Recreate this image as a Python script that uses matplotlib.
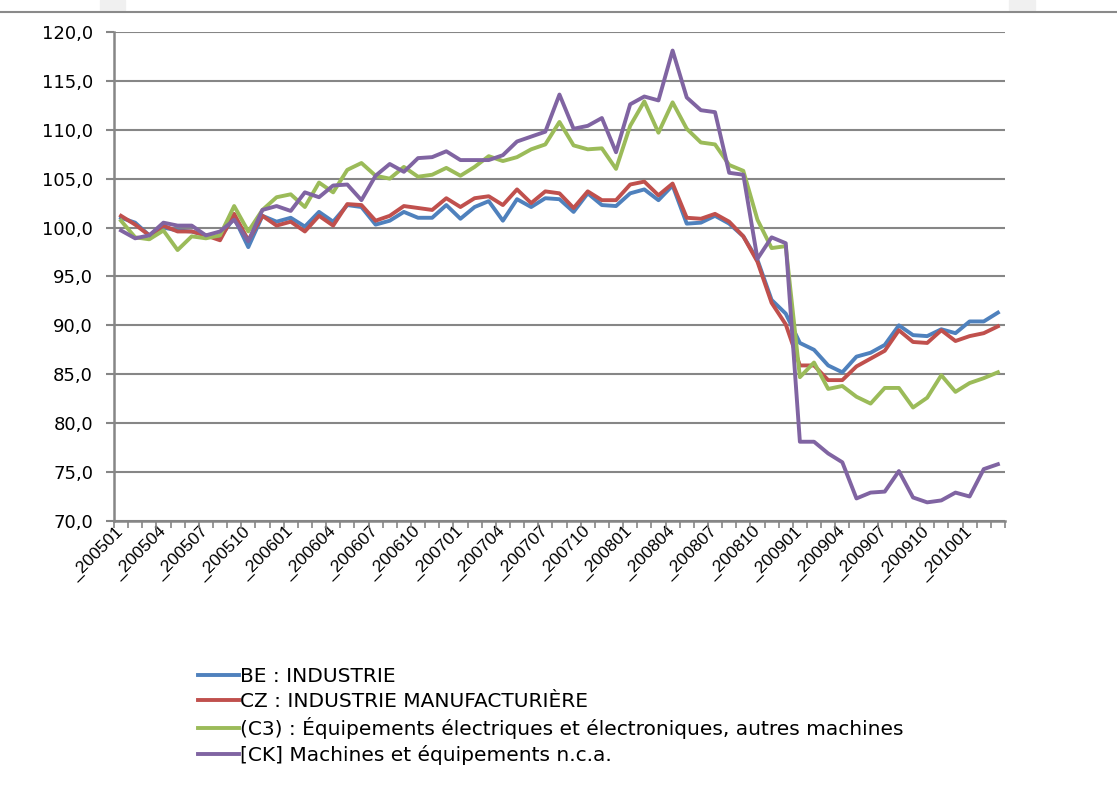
import numpy as np
import matplotlib.pyplot as plt
from matplotlib.lines import Line2D
from matplotlib.patches import Rectangle

# Months 200501 .. 201003
months = ["_%d%02d" % (2005 + k // 12, k % 12 + 1) for k in range(63)]

be_industrie = [101.0, 100.5, 99.2, 100.0, 99.7, 99.6, 99.2, 99.0, 101.0, 98.0,
                101.2, 100.6, 101.0, 100.1, 101.6, 100.6, 102.3, 102.1, 100.3, 100.7,
                101.6, 101.0, 101.0, 102.3, 100.9, 102.1, 102.7, 100.7, 102.9, 102.1,
                103.0, 102.9, 101.6, 103.5, 102.3, 102.2, 103.5, 103.9, 102.8, 104.3,
                100.4, 100.5, 101.2, 100.4, 99.1, 96.7, 92.6, 91.2, 88.2, 87.5,
                85.9, 85.2, 86.8, 87.2, 88.0, 90.0, 89.0, 88.9, 89.6, 89.2,
                90.4, 90.4, 91.3]

cz_manuf = [101.2, 100.3, 99.2, 100.2, 99.6, 99.6, 99.2, 98.7, 101.4, 98.7,
            101.2, 100.2, 100.6, 99.6, 101.2, 100.2, 102.4, 102.3, 100.7, 101.2,
            102.2, 102.0, 101.8, 103.0, 102.1, 103.0, 103.2, 102.3, 103.9, 102.5,
            103.7, 103.5, 102.0, 103.7, 102.8, 102.8, 104.4, 104.7, 103.3, 104.5,
            101.0, 100.9, 101.4, 100.6, 99.1, 96.5, 92.3, 90.1, 85.9, 85.9,
            84.4, 84.4, 85.8, 86.6, 87.4, 89.5, 88.3, 88.2, 89.5, 88.4,
            88.9, 89.2, 89.9]

c3_equip = [100.7, 99.0, 98.8, 99.7, 97.7, 99.1, 98.9, 99.2, 102.2, 99.6,
            101.8, 103.1, 103.4, 102.1, 104.6, 103.6, 105.9, 106.6, 105.3, 105.0,
            106.2, 105.2, 105.4, 106.1, 105.3, 106.2, 107.3, 106.8, 107.2, 108.0,
            108.5, 110.8, 108.4, 108.0, 108.1, 106.0, 110.4, 112.9, 109.7, 112.8,
            110.1, 108.7, 108.5, 106.4, 105.8, 100.8, 97.9, 98.1, 84.7, 86.2,
            83.5, 83.8, 82.7, 82.0, 83.6, 83.6, 81.6, 82.6, 84.9, 83.2,
            84.1, 84.6, 85.2]

ck_machines = [99.7, 98.9, 99.2, 100.5, 100.2, 100.2, 99.2, 99.6, 100.8, 98.6,
               101.8, 102.2, 101.7, 103.6, 103.1, 104.3, 104.4, 102.8, 105.3, 106.5,
               105.7, 107.1, 107.2, 107.8, 106.9, 106.9, 106.9, 107.4, 108.8, 109.3,
               109.8, 113.6, 110.1, 110.4, 111.2, 107.7, 112.6, 113.4, 113.0, 118.1,
               113.3, 112.0, 111.8, 105.6, 105.4, 96.8, 99.0, 98.4, 78.1, 78.1,
               76.9, 76.0, 72.3, 72.9, 73.0, 75.1, 72.4, 71.9, 72.1, 72.9,
               72.5, 75.3, 75.8]

labels = ["BE : INDUSTRIE",
          "CZ : INDUSTRIE MANUFACTURIÈRE",
          "(C3) : Équipements électriques et électroniques, autres machines",
          "[CK] Machines et équipements n.c.a."]
colors = ["#4F81BD", "#C0504D", "#9BBB59", "#8064A2"]

plt.rcParams["font.family"] = ["DejaVu Sans"]

fig = plt.figure(figsize=(11.17, 7.99), dpi=100)
ax = fig.add_axes([0.102, 0.348, 0.7977, 0.612])

x = np.arange(len(months))
series = [be_industrie, cz_manuf, c3_equip, ck_machines]
for vals, lab, col in zip(series, labels, colors):
    ax.plot(x, vals, color=col, linewidth=2.8, label=lab, solid_joinstyle="round")

ax.set_xlim(-0.5, len(months) - 0.5)
ax.set_ylim(70, 120)
yt = np.arange(70, 121, 5)
ax.set_yticks(yt)
ax.set_yticklabels([("%.1f" % v).replace(".", ",") for v in yt], fontsize=13)
ax.yaxis.grid(True, color="#868686", linewidth=1.5)
ax.set_axisbelow(True)

ax.set_xticks(x[::3])
ax.set_xticklabels(months[::3], rotation=45, ha="right", va="center",
                   rotation_mode="anchor", fontsize=12.5,
                   family=["Liberation Sans", "DejaVu Sans"])
ax.set_xticks(np.arange(-0.5, len(months), 1), minor=True)
ax.tick_params(axis="x", which="major", length=0, pad=6)
ax.tick_params(axis="x", which="minor", length=5, width=1.2, color="#868686")
ax.tick_params(axis="y", length=6, width=1.5, color="#868686", pad=9)

for s in ["top", "right"]:
    ax.spines[s].set_visible(False)
for s in ["left", "bottom"]:
    ax.spines[s].set_color("#868686")
    ax.spines[s].set_linewidth(1.8)

fig.legend(loc="upper left", bbox_to_anchor=(0.1685, 0.178), frameon=False,
           fontsize=14.5, handlelength=2.0, handletextpad=0.05, labelspacing=0.3,
           borderpad=0)

# top border of the original capture
fig.add_artist(Line2D([0, 1], [1 - 12 / 799, 1 - 12 / 799], transform=fig.transFigure,
                      color="#8a8a8a", linewidth=1.5))
fig.add_artist(Rectangle((100 / 1117, 1 - 11 / 799), 25 / 1117, 11 / 799,
                         transform=fig.transFigure, color="#f0f0f0", zorder=0))
fig.add_artist(Rectangle((1009 / 1117, 1 - 11 / 799), 26 / 1117, 11 / 799,
                         transform=fig.transFigure, color="#f0f0f0", zorder=0))

fig.savefig("out.png", dpi=100)
